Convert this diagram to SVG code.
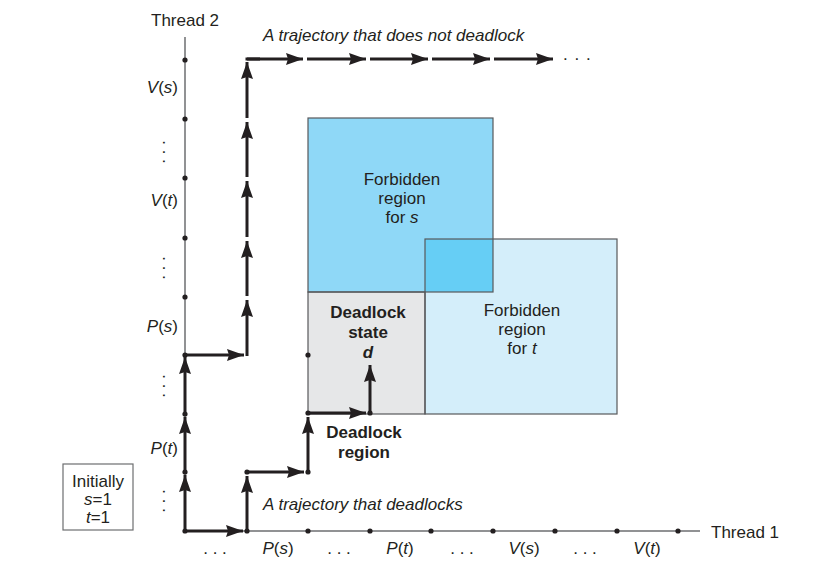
<svg xmlns="http://www.w3.org/2000/svg" width="824" height="572" viewBox="0 0 824 572">
<style>
text{font-family:"Liberation Sans",Arial,Helvetica,sans-serif;fill:#231f20}
.lbl{font-size:17px}
.ax{font-size:17px;text-anchor:end}
.bx{font-size:17px;text-anchor:middle}
.c{text-anchor:middle}
.b{font-weight:bold}
.i{font-style:italic}
.axis{stroke:#6d6e70;stroke-width:1.5;fill:none}
.reg{stroke:#58595b;stroke-width:1.2;fill:none}
.tr{stroke:#231f20;stroke-width:3;fill:none;marker-end:url(#ah)}
.tl{stroke:#231f20;stroke-width:3;fill:none}
.dot{fill:#231f20}
</style>
<defs>
<marker id="ah" markerUnits="userSpaceOnUse" markerWidth="18" markerHeight="12" refX="17" refY="6" orient="auto">
<path d="M0,0 L17,6 L0,12 L2,6 Z" fill="#231f20"/>
</marker>
</defs>
<g id="regions">
<rect x="308" y="292" width="117" height="122" fill="#e6e7e8"/>
<rect x="308" y="118" width="185" height="174" fill="#8fd8f7"/>
<rect x="425" y="239" width="192" height="175" fill="#d4eefa"/>
<rect x="425" y="239" width="68" height="53" fill="#66cef5"/>
<rect class="reg" x="308" y="292" width="117" height="122"/>
<rect class="reg" x="308" y="118" width="185" height="174"/>
<rect class="reg" x="425" y="239" width="192" height="175"/>
</g>
<g id="axes">
<line class="axis" x1="185" y1="37" x2="185" y2="531"/>
<line class="axis" x1="185" y1="531" x2="700" y2="531"/>
<g class="dot">
<circle cx="185" cy="60" r="2.6"/><circle cx="185" cy="119" r="2.6"/><circle cx="185" cy="178" r="2.6"/><circle cx="185" cy="238" r="2.6"/><circle cx="185" cy="297" r="2.6"/><circle cx="185" cy="355" r="2.6"/><circle cx="185" cy="414" r="2.6"/><circle cx="185" cy="472" r="2.6"/><circle cx="185" cy="531" r="2.6"/>
<circle cx="247" cy="531" r="2.6"/><circle cx="308" cy="531" r="2.6"/><circle cx="370" cy="531" r="2.6"/><circle cx="431" cy="531" r="2.6"/><circle cx="493" cy="531" r="2.6"/><circle cx="555" cy="531" r="2.6"/><circle cx="617" cy="531" r="2.6"/><circle cx="678" cy="531" r="2.6"/>
</g>
</g>
<g id="connectors">
<line class="tr" x1="185" y1="529" x2="185" y2="475"/>
<line class="tr" x1="185" y1="471" x2="185" y2="417"/>
<line class="tr" x1="185" y1="412" x2="185" y2="357"/>
<line class="tr" x1="185" y1="355" x2="244" y2="355"/>
<line class="tr" x1="247" y1="356" x2="247" y2="300"/>
<line class="tr" x1="247" y1="296" x2="247" y2="241"/>
<line class="tr" x1="247" y1="237" x2="247" y2="181"/>
<line class="tr" x1="247" y1="177" x2="247" y2="122"/>
<line class="tr" x1="247" y1="118" x2="247" y2="62"/>
<line class="tl" x1="245.5" y1="59" x2="260" y2="59"/>
<line class="tr" x1="247" y1="59" x2="303" y2="59"/>
<line class="tr" x1="307" y1="59" x2="366" y2="59"/>
<line class="tr" x1="370" y1="59" x2="428" y2="59"/>
<line class="tr" x1="432" y1="59" x2="490" y2="59"/>
<line class="tr" x1="494" y1="59" x2="553" y2="59"/>
<line class="tr" x1="185" y1="531" x2="243" y2="531"/>
<line class="tr" x1="247" y1="531" x2="247" y2="476"/>
<line class="tr" x1="247" y1="472" x2="304" y2="472"/>
<line class="tr" x1="308" y1="472" x2="308" y2="417"/>
<line class="tr" x1="308" y1="413" x2="366" y2="413"/>
<line class="tr" x1="370" y1="413" x2="370" y2="365"/>
<g class="dot">
<circle cx="247" cy="472" r="2.6"/><circle cx="308" cy="472" r="2.6"/><circle cx="308" cy="413" r="2.6"/><circle cx="370" cy="413" r="2.6"/><circle cx="308" cy="355" r="2.6"/>
</g>
</g>
<g id="labels">
<text class="lbl" x="151" y="26">Thread 2</text>
<text class="lbl" x="711" y="538">Thread 1</text>
<text class="lbl i" x="263" y="41">A trajectory that does not deadlock</text>
<text class="lbl" x="563" y="60" letter-spacing="1">. . .</text>
<text class="lbl i" x="263" y="510">A trajectory that deadlocks</text>
<text class="ax" x="178" y="93"><tspan class="i">V</tspan>(<tspan class="i">s</tspan>)</text>
<text class="ax" x="178" y="206"><tspan class="i">V</tspan>(<tspan class="i">t</tspan>)</text>
<text class="ax" x="178" y="332"><tspan class="i">P</tspan>(<tspan class="i">s</tspan>)</text>
<text class="ax" x="178" y="454"><tspan class="i">P</tspan>(<tspan class="i">t</tspan>)</text>
<text class="lbl c" transform="translate(163,152) rotate(90)">. . .</text>
<text class="lbl c" transform="translate(163,268) rotate(90)">. . .</text>
<text class="lbl c" transform="translate(163,386) rotate(90)">. . .</text>
<text class="lbl c" transform="translate(163,501) rotate(90)">. . .</text>
<text class="bx" x="215" y="554">. . .</text>
<text class="bx" x="278" y="554"><tspan class="i">P</tspan>(<tspan class="i">s</tspan>)</text>
<text class="bx" x="339" y="554">. . .</text>
<text class="bx" x="400" y="554"><tspan class="i">P</tspan>(<tspan class="i">t</tspan>)</text>
<text class="bx" x="462" y="554">. . .</text>
<text class="bx" x="524" y="554"><tspan class="i">V</tspan>(<tspan class="i">s</tspan>)</text>
<text class="bx" x="585" y="554">. . .</text>
<text class="bx" x="647" y="554"><tspan class="i">V</tspan>(<tspan class="i">t</tspan>)</text>
</g>
<g id="forbidden-s">
<text class="lbl c" x="402" y="185">Forbidden</text>
<text class="lbl c" x="402" y="204">region</text>
<text class="lbl c" x="402" y="223">for <tspan class="i">s</tspan></text>
</g>
<g id="forbidden-t">
<text class="lbl c" x="522" y="316">Forbidden</text>
<text class="lbl c" x="522" y="335">region</text>
<text class="lbl c" x="522" y="354">for <tspan class="i">t</tspan></text>
</g>
<g id="deadlock-state">
<text class="lbl c b" x="368" y="318">Deadlock</text>
<text class="lbl c b" x="368" y="338">state</text>
<text class="lbl c b i" x="368" y="358">d</text>
</g>
<g id="deadlock-region">
<text class="lbl c b" x="364" y="438">Deadlock</text>
<text class="lbl c b" x="364" y="458">region</text>
</g>
<g id="initially">
<rect x="63" y="464" width="70" height="66" fill="#fff" stroke="#6d6e70" stroke-width="1.2"/>
<text class="bx" x="98" y="487">Initially</text>
<text class="bx" x="98" y="505"><tspan class="i">s</tspan>=1</text>
<text class="bx" x="98" y="523"><tspan class="i">t</tspan>=1</text>
</g>
</svg>
